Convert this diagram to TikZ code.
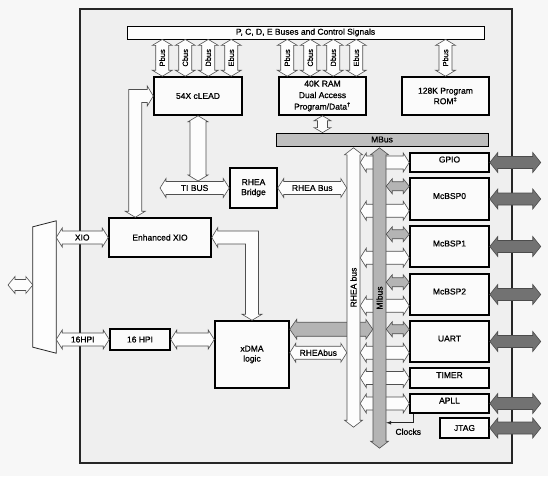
\documentclass[tikz,border=0pt]{standalone}
\usepackage{fontspec}
\setmainfont{Liberation Sans}[FakeBold=0.8]
\usetikzlibrary{calc}

\definecolor{pagebg}{HTML}{F7F7F7}
\definecolor{chipbg}{HTML}{EFEFEF}
\definecolor{boxfill}{HTML}{FBFBFB}
\definecolor{busfill}{HTML}{FDFDFD}
\definecolor{busline}{HTML}{505050}
\definecolor{midgray}{HTML}{B4B4B4}
\definecolor{mbusgray}{HTML}{BEBEBE}
\definecolor{portgray}{HTML}{727272}

\newcommand{\boxfont}{\fontsize{8.5}{10}\selectfont}
\newcommand{\busfont}{\fontsize{8.5}{10}\selectfont}
\newcommand{\tinybusfont}{\fontsize{7.5}{8}\selectfont}

\tikzset{
  bus shaft/.store in=\busshaft, bus head/.store in=\bushead, bus tip/.store in=\bustip,
  bus shaft=6.5pt, bus head=9.5pt, bus tip=6pt,
  bus/.style={draw=busline, line width=.6pt, fill=busfill, line join=miter},
  buslabel/.style={font=\busfont, inner sep=0pt},
}

% horizontal bus arrow, heads at both ends (y taken from the first point)
\newcommand{\hbus}[4][bus]{%
  \draw[#1] let \p1=#2, \p2=#3, \n1={sign(\x2-\x1)} in
    (\x1,\y1) -- ({\x1+\n1*\bustip},{\y1+\bushead}) -- ({\x1+\n1*\bustip},{\y1+\busshaft})
    -- ({\x2-\n1*\bustip},{\y1+\busshaft}) -- ({\x2-\n1*\bustip},{\y1+\bushead}) -- (\x2,\y1)
    -- ({\x2-\n1*\bustip},{\y1-\bushead}) -- ({\x2-\n1*\bustip},{\y1-\busshaft})
    -- ({\x1+\n1*\bustip},{\y1-\busshaft}) -- ({\x1+\n1*\bustip},{\y1-\bushead}) -- cycle
    ({(\x1+\x2)/2},\y1) node[buslabel] {#4};}

% vertical bus arrow, heads at both ends (x taken from the first point)
\newcommand{\vbus}[4][bus]{%
  \draw[#1] let \p1=#2, \p2=#3, \n1={sign(\y2-\y1)} in
    (\x1,\y1) -- ({\x1+\bushead},{\y1+\n1*\bustip}) -- ({\x1+\busshaft},{\y1+\n1*\bustip})
    -- ({\x1+\busshaft},{\y2-\n1*\bustip}) -- ({\x1+\bushead},{\y2-\n1*\bustip}) -- (\x1,\y2)
    -- ({\x1-\bushead},{\y2-\n1*\bustip}) -- ({\x1-\busshaft},{\y2-\n1*\bustip})
    -- ({\x1-\busshaft},{\y1+\n1*\bustip}) -- ({\x1-\bushead},{\y1+\n1*\bustip}) -- cycle
    (\x1,{(\y1+\y2)/2}) node[buslabel, rotate=90] {#4};}

% L-shaped bus arrow: horizontal end at the first point, vertical end at the second
\newcommand{\lbus}[3][bus]{%
  \draw[#1] let \p1=#2, \p2=#3, \n1={sign(\x1-\x2)}, \n2={sign(\y2-\y1)} in
    (\x1,\y1) -- ({\x1-\n1*\bustip},{\y1-\n2*\bushead}) -- ({\x1-\n1*\bustip},{\y1-\n2*\busshaft})
    -- ({\x2-\n1*\busshaft},{\y1-\n2*\busshaft}) -- ({\x2-\n1*\busshaft},{\y2-\n2*\bustip})
    -- ({\x2-\n1*\bushead},{\y2-\n2*\bustip}) -- (\x2,\y2) -- ({\x2+\n1*\bushead},{\y2-\n2*\bustip})
    -- ({\x2+\n1*\busshaft},{\y2-\n2*\bustip}) -- ({\x2+\n1*\busshaft},{\y1+\n2*\busshaft})
    -- ({\x1-\n1*\bustip},{\y1+\n2*\busshaft}) -- ({\x1-\n1*\bustip},{\y1+\n2*\bushead}) -- cycle;}

\begin{document}
\begin{tikzpicture}[x=1pt, y=-1pt,
  box/.style={draw, line width=1.5pt, fill=boxfill, inner sep=0pt, align=center, font=\boxfont},
  thinbox/.style={draw, line width=.8pt, inner sep=0pt, font=\boxfont},
  busnode/.style={minimum width=13, inner sep=0pt},
  smallbus/.style={bus, bus shaft=6.5pt, bus head=10pt, bus tip=6pt, buslabel/.append style={font=\tinybusfont}},
  bigbus/.style={bus, bus shaft=6.5pt, bus head=9pt, bus tip=7pt},
  graybus/.style={bus, fill=midgray},
  darkbus/.style={bus, draw=black!70, fill=portgray, bus shaft=6pt, bus head=10pt, bus tip=8pt},
  chip/.style={draw=black!85, fill=chipbg, line width=1.2pt},
  clockline/.style={draw=black!85, line width=.7pt, arrows=-latex}]

\useasboundingbox (0,0) rectangle (548,476);
\fill[pagebg] (0,0) rectangle (548,476);
\draw[chip] (80,9) rectangle (512,463);

% boxes
\node[thinbox, fill=busfill, minimum width=357, minimum height=13] (bar) at (305.5,32.5) {P, C, D, E Buses and Control Signals};
\node[box, minimum width=88, minimum height=38] (clead) at (198,96) {54X cLEAD};
\node[box, minimum width=87, minimum height=38, font=\fontsize{8.5}{11.5}\selectfont] (ram) at (322.5,96) {40K RAM\\Dual Access\\Program/Data\textsuperscript{\textdagger}};
\node[box, minimum width=87, minimum height=38, font=\fontsize{8.5}{10.5}\selectfont] (rom) at (445.5,96) {128K Program\\ROM\textsuperscript{\textdaggerdbl}};
\node[thinbox, fill=mbusgray, minimum width=212, minimum height=13] (mbus) at (382,139.5) {MBus};
\node[box, minimum width=47, minimum height=40] (bridge) at (253.5,188) {RHEA\\Bridge};
\node[box, minimum width=102, minimum height=39] (xio) at (160,237.5) {Enhanced XIO};
\node[box, minimum width=60, minimum height=21] (hpi) at (140,339.5) {16 HPI};
\node[box, minimum width=74, minimum height=67] (xdma) at (252,354.5) {xDMA\\logic};
\foreach \per/\txt/\yc/\ht in {gpio/GPIO/162.5/19, mcbsp0/McBSP0/199/42, mcbsp1/McBSP1/246.5/41,
    mcbsp2/McBSP2/294.5/41, uart/UART/341.5/41, timer/TIMER/378/20, apll/APLL/403.5/19}
  \node[box, minimum width=79, minimum height=\ht] (\per) at (449.5,\yc) {\txt};
\node[box, minimum width=49, minimum height=20] (jtag) at (464.5,428) {JTAG};

% mux and the two long buses
\node[minimum width=23, minimum height=132, inner sep=0pt] (mux) at (44.5,287) {};
\draw[draw=black!85, fill=busfill, line width=.8pt] (mux.north east) -- (mux.south east)
  -- ($(mux.south west)+(0,-6)$) -- ($(mux.north west)+(0,6)$) -- cycle;
\node[busnode, minimum height=279] (rhea) at (353.5,287.5) {};
\node[busnode, minimum height=300] (mib) at (379.5,298) {};

\coordinate (ext) at (8,285);
\coordinate (tiend) at (160,188);
\coordinate (dmagray) at ($(xdma.north east)+(0,9)$);
\coordinate (dmarhea) at ($(xdma.south east)+(0,-36)$);

% left side
\hbus[bus, bus shaft=5.5pt, bus head=8.5pt, bus tip=7pt]{(ext)}{(ext -| mux.west)}{}
\hbus{(mux.east |- xio.west)}{(xio.west)}{XIO}
\hbus{(mux.east |- hpi.west)}{(hpi.west)}{16HPI}
\hbus{(hpi.east)}{(hpi.east -| xdma.west)}{}
\lbus[bus, bus head=10pt]{(clead.west)}{($(xio.north west)+(27,0)$)}
\lbus[bus, bus head=10pt]{(xio.east)}{(xdma.north)}

% top buses
\foreach \lbl [count=\i from 0] in {Pbus,Cbus,Dbus,Ebus} {
  \vbus[smallbus]{($(clead.north west)+({9+23*\i},0)$)}{(bar.south)}{\lbl}
  \vbus[smallbus]{($(ram.north west)+({9+23*\i},0)$)}{(bar.south)}{\lbl}
}
\vbus[smallbus]{(rom.north)}{(bar.south)}{Pbus}
\vbus[bus, bus shaft=5pt, bus head=8.5pt, bus tip=5pt]{(ram.south)}{(mbus.north)}{}
\vbus[bus, bus shaft=8pt, bus head=10pt]{(clead.south)}{($(clead.south |- tiend)+(0,-7)$)}{}
\hbus{(tiend)}{(tiend -| bridge.west)}{TI BUS}
\hbus{(bridge.east)}{(bridge.east -| rhea.west)}{RHEA Bus}

% xDMA to the buses
\hbus[graybus, bus shaft=7pt, bus head=10pt, bus tip=7pt]{(dmagray)}{(dmagray -| mib.west)}{}
\hbus{(dmarhea)}{(dmarhea -| rhea.west)}{RHEAbus}

% RHEA bus to the peripherals
\foreach \per in {mcbsp0,mcbsp1,mcbsp2,uart} {
  \coordinate (w) at ($(\per.south west)+(0,-10)$);
  \hbus{(w -| rhea.east)}{(w)}{}
}
\foreach \per in {gpio,timer,apll} {
  \hbus{(rhea.east |- \per.west)}{(\per.west)}{}
}

\vbus[bigbus]{(rhea.north)}{(rhea.south)}{RHEA bus}
\vbus[bigbus, fill=midgray]{(mib.north)}{(mib.south)}{MIbus}

% MIbus to the peripherals
\foreach \per in {mcbsp0,mcbsp1,mcbsp2,uart} {
  \coordinate (g) at ($(\per.north west)+(0,9)$);
  \hbus[graybus, bus shaft=4.5pt, bus head=7.5pt, bus tip=6pt]{(g -| mib.east)}{(g)}{}
}

% pins
\foreach \per in {gpio,mcbsp0,mcbsp1,mcbsp2,uart,apll,jtag} {
  \hbus[darkbus]{(\per.east)}{($(\per.east)+(51,0)$)}{}
}

% clocks
\coordinate (clk) at ($(apll.south west)+(4,9)$);
\draw[clockline] ($(apll.south west)+(4,0)$) -- (clk) -- (clk -| mib.east);
\node[font=\busfont] (clocks) at ($(clk)+(-5,9)$) {Clocks};
\end{tikzpicture}
\end{document}
